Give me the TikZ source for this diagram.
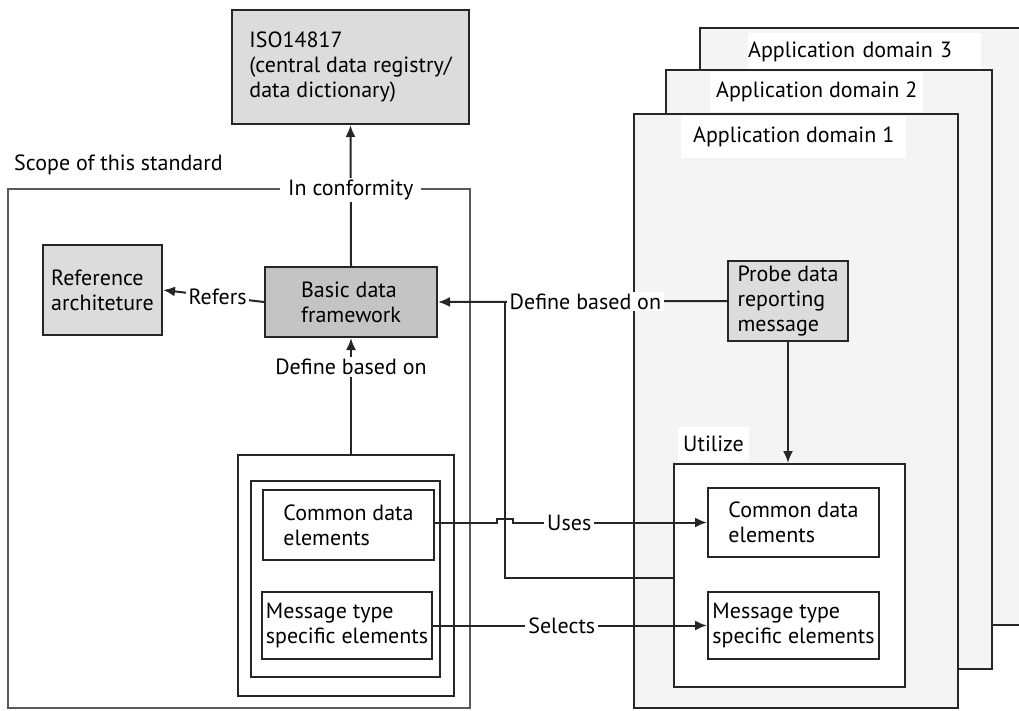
\documentclass[tikz,border=0pt]{standalone}
\usepackage{fontspec}
\setmainfont{PT Sans}
\usetikzlibrary{arrows.meta}
\definecolor{linec}{HTML}{262626}
\definecolor{scopec}{HTML}{5A5A5A}
\definecolor{lgray}{HTML}{DCDCDD}
\definecolor{dgray}{HTML}{C4C4C4}
\definecolor{dombg}{HTML}{F4F4F4}
\tikzset{
  box/.style={draw=linec, line width=2pt, align=left, inner sep=2pt, font=\fontsize{22}{25}\selectfont},
  frame/.style={draw=linec, line width=2pt, inner sep=0pt},
  domframe/.style={draw=linec, line width=2pt, fill=dombg},
  lbl/.style={fill=white, inner xsep=3pt, inner ysep=2pt, font=\fontsize{22}{25}\selectfont},
  txt/.style={font=\fontsize{22}{25}\selectfont, inner sep=0pt},
  conn/.style={draw=linec, line width=2pt},
  arr/.style={conn, -{Latex[length=12pt,width=10pt]}},
}
\begin{document}
\begin{tikzpicture}[x=1pt,y=-1pt]
\useasboundingbox (0,0) rectangle (1019,710);
\clip (0,0) rectangle (1019,710);
% application domains
\draw[domframe] (700,28) rectangle (1040,625);
\node[txt, fill=white, anchor=north west, text width=233pt, minimum height=37pt, align=left] (d3) at (748,33) {Application domain 3};
\draw[domframe] (666,70) rectangle (992,669);
\node[txt, fill=white, anchor=west, inner xsep=6pt, minimum height=40pt] (d2) at (710,92) {Application domain 2};
\draw[domframe] (634,114) rectangle (958,708);
\node[txt, fill=white, anchor=west, inner xsep=12pt, minimum height=42pt] (d1) at (681,137) {Application domain 1};
% scope
\draw[draw=scopec, line width=2pt] (8,189) rectangle (470,708);
\node[txt, anchor=west] (scope) at (14,165) {Scope of this standard};
% boxes
\node[box, fill=lgray, minimum width=237pt, minimum height=114pt] (iso) at (350.5,67) {ISO14817\\(central data registry/\\data dictionary)};
\node[box, fill=lgray, minimum width=119pt, minimum height=90pt] (ref) at (102.5,290) {Reference\\architeture};
\node[box, fill=dgray, minimum width=172pt, minimum height=70pt] (basic) at (351,302) {Basic data\\framework};
\node[box, fill=lgray, minimum width=120pt, minimum height=80pt] (probe) at (788,301) {Probe data\\reporting\\message};
\node[frame, fill=white, minimum width=216pt, minimum height=241pt] (outer) at (346,575.5) {};
\node[frame, minimum width=189pt, minimum height=196pt] (mid) at (345.5,579) {};
\node[box, fill=white, minimum width=171pt, minimum height=70pt] (cl) at (348.5,525) {Common data\\elements};
\node[box, fill=white, minimum width=170pt, minimum height=67pt] (ml) at (347,625.5) {Message type\\specific elements};
\node[frame, fill=white, minimum width=231pt, minimum height=223pt] (util) at (789.5,575.5) {};
\node[txt, fill=white, anchor=west, inner xsep=5pt, minimum height=34pt] (utl) at (678,444) {Utilize};
\node[box, fill=white, minimum width=171pt, minimum height=69pt] (cr) at (793.5,522.5) {Common data\\elements};
\node[box, fill=white, minimum width=171pt, minimum height=67pt] (mr) at (793.5,625.5) {Message type\\specific elements};
\coordinate (jn) at (505,302);
% connectors
\draw[arr] (basic.north) -- node[lbl, inner xsep=8pt, pos=0.54] (conf) {In conformity} (iso.south);
\draw[arr] (basic.west) -- node[lbl, pos=0.46] (refl) {Refers} (ref.east);
\draw[arr] (basic.south |- outer.north) -- node[lbl, pos=0.75] (defl) {Define based on} (basic.south);
\draw[conn] ([yshift=-2pt]util.west) -| (jn);
\draw[arr] (probe.west) -- node[lbl, pos=0.49] (defu) {Define based on} (basic.east);
\draw[arr] (cl.east |- cr.west) -- ([xshift=-8pt]jn |- cr.west) -- ++(0,-4) -- ++(16,0) -- ++(0,4) -- node[lbl, pos=0.29] (uses) {Uses} (cr.west);
\draw[arr] (ml.east) -- node[lbl, pos=0.47] (sel) {Selects} (mr.west);
\draw[arr] (probe.south) -- (probe.south |- util.north);
\end{tikzpicture}
\end{document}
